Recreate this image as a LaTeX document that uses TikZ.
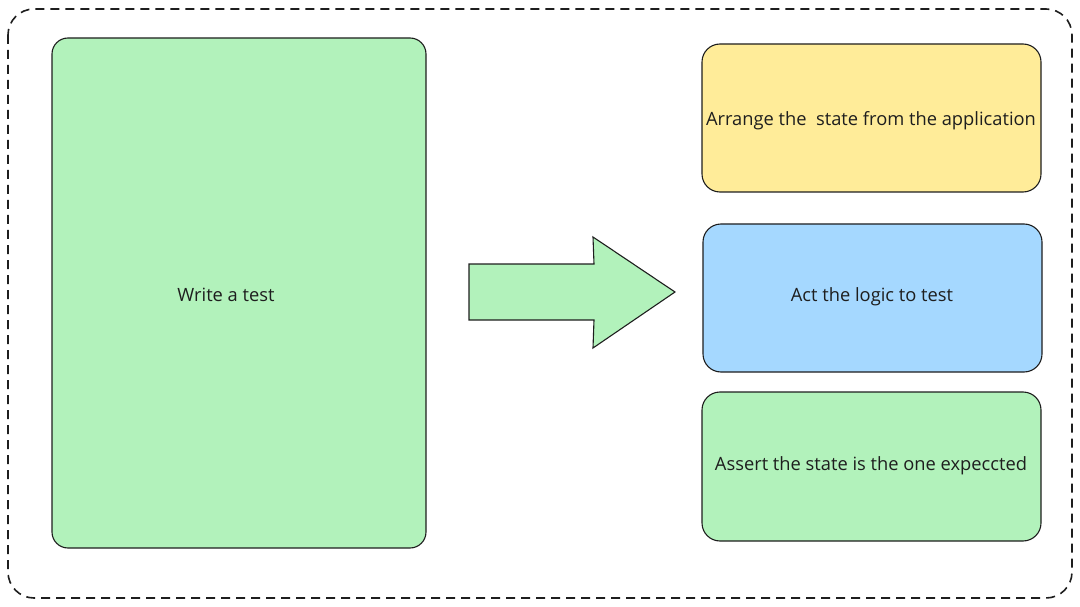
\documentclass[tikz,border=0pt]{standalone}
\usepackage{fontspec}
\setmainfont{Open Sans}
\definecolor{exgreen}{HTML}{B2F2BB}
\definecolor{exyellow}{HTML}{FFEC99}
\definecolor{exblue}{HTML}{A5D8FF}
\definecolor{exstroke}{HTML}{1E1E1E}
\begin{document}
\begin{tikzpicture}[x=1pt,y=-1pt,
  card/.style={draw=exstroke, line width=1.1pt, rounded corners=#1},
  card/.default=18pt,
  lbl/.style={font=\fontsize{18.3}{21}\selectfont, text=exstroke}]
\useasboundingbox (0,0) rectangle (1080,607);
\draw[exstroke, line width=1.6pt, dash pattern=on 9pt off 6pt, rounded corners=26pt] (8,9) rectangle (1072,598);
\filldraw[card=16pt, fill=exgreen] (52,38) rectangle (426,548);
\node[lbl] (write) at (226,295) {Write a test};
\filldraw[card, fill=exyellow] (702,44) rectangle (1041,192);
\node[lbl] (arrange) at (871,121) {Arrange the\ \ state from the application};
\filldraw[card, fill=exblue] (703,224) rectangle (1042,372);
\node[lbl] (act) at (872,297) {Act the logic to test};
\filldraw[card, fill=exgreen] (702,392) rectangle (1041,541);
\node[lbl] (assert) at (871,466) {Assert the state is the one expeccted};
\filldraw[draw=exstroke, line width=1.1pt, fill=exgreen, line join=miter]
  (469,264) -- (594,264) -- (593,237) -- (675,292) -- (593,348) -- (594,320) -- (469,320) -- cycle;
\end{tikzpicture}
\end{document}
